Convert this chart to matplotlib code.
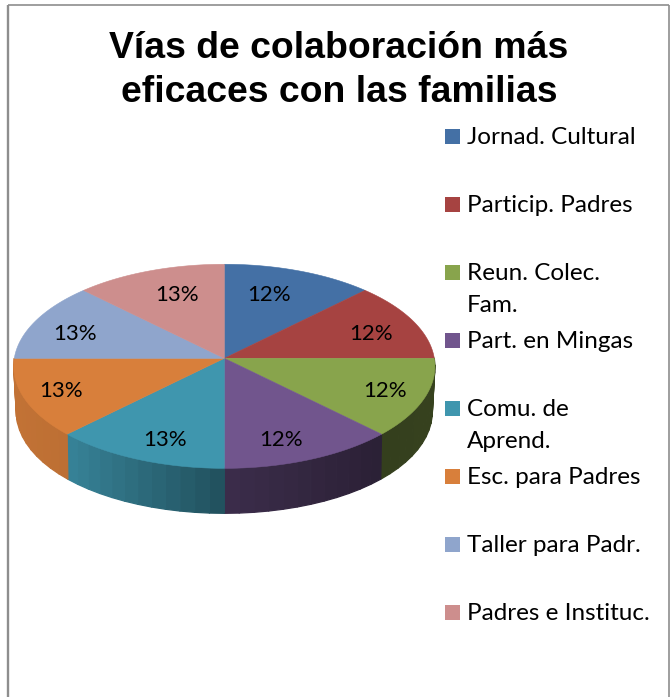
import numpy as np
import matplotlib
matplotlib.use("Agg")
import matplotlib.pyplot as plt
from matplotlib.collections import PolyCollection
from matplotlib.patches import Rectangle

# ---- data ----
title_lines = ["Vías de colaboración más", "eficaces con las familias"]
categories = ["Jornad. Cultural", "Particip. Padres", "Reun. Colec.\nFam.", "Part. en Mingas",
              "Comu. de\nAprend.", "Esc. para Padres", "Taller para Padr.", "Padres e Instituc."]
slice_shares = [12.5, 12.5, 12.5, 12.5, 12.5, 12.5, 12.5, 12.5]
printed_percent = [12, 12, 12, 12, 13, 13, 13, 13]

# ---- styles ----
colors = ["#4470a5", "#a64341", "#88a44c", "#71558d", "#3f96ae", "#d87f3b", "#8fa5cc", "#cd8e8d"]
CX, CY, RX, S, K, DEPTH = 224.3, 358.3, 210.0, 101.4, 0.0784, 45.0
label_xy = [(269, 295), (371, 334), (385, 391), (281, 440), (165, 440), (61, 391), (75, 334), (177, 295)]
shade_x = [14, 68, 224, 380, 434]
shade_v = [0.90, 0.87, 0.53, 0.38, 0.40]
legend_y = [136.5, 204, 272, 340, 408, 476, 544, 612]
LEG_FONT = "Lato"


def project(theta_deg):
    """Clockwise-from-top angle to image position on the tilted disc rim."""
    t = np.radians(theta_deg)
    u, v = np.sin(t), np.cos(t)
    w = 1 + K * v
    return CX + RX * u / w, CY - S * v / w


fig = plt.figure(figsize=(6.70, 6.97), dpi=100)
ax = fig.add_axes([0, 0, 1, 1])
ax.set_xlim(0, 670)
ax.set_ylim(697, 0)
ax.axis("off")

# chart frame
ax.plot([8.3, 8.3], [697, 4.5], color="#8e8e8e", lw=1.7, solid_capstyle="butt")
ax.plot([8.3, 668.6], [4.5, 4.5], color="#8e8e8e", lw=1.2, solid_capstyle="butt")
ax.plot([668.6, 668.6], [4.5, 697], color="#8e8e8e", lw=1.2, solid_capstyle="butt")

edges = np.cumsum([0] + slice_shares) / np.sum(slice_shares) * 360

# side wall
polys, cols = [], []
for i, c in enumerate(colors):
    lo, hi = max(edges[i], 90), min(edges[i + 1], 270)
    if hi <= lo:
        continue
    base = np.array(matplotlib.colors.to_rgb(c))
    th = np.linspace(lo, hi, 13)
    x, y = project(th)
    for j in range(len(th) - 1):
        xm = 0.5 * (x[j] + x[j + 1])
        # the lower rim sits slightly inside the upper one near the sides
        inset = 2.5 * ((x[[j + 1, j]] - CX) / RX) ** 4 * np.sign(x[[j + 1, j]] - CX)
        polys.append([(x[j], y[j]), (x[j + 1], y[j + 1]),
                      (x[j + 1] - inset[0], y[j + 1] + DEPTH), (x[j] - inset[1], y[j] + DEPTH)])
        cols.append(tuple(base * np.interp(xm, shade_x, shade_v)))
ax.add_collection(PolyCollection(polys, facecolors=cols, edgecolors=cols, linewidths=0.9))

# top faces
for i, c in enumerate(colors):
    th = np.linspace(edges[i], edges[i + 1], 60)
    x, y = project(th)
    ax.fill(np.r_[CX, x], np.r_[CY, y], facecolor=c, edgecolor=c, linewidth=0.4)

# percentage labels
for (lx, ly), p in zip(label_xy, printed_percent):
    ax.text(lx, ly, f"{p}%", ha="center", va="center", fontsize=16, family=LEG_FONT, color="black")

# title
for line, yy in zip(title_lines, [49, 92]):
    ax.text(339, yy, line, ha="center", va="center", fontsize=26.9, fontweight="bold",
            family="Liberation Sans", color="black")

# legend
for name, c, yy in zip(categories, colors, legend_y):
    ax.add_patch(Rectangle((445, yy - 7.5), 15, 15, facecolor=c, edgecolor="none"))
    for k, part in enumerate(name.split("\n")):
        ax.text(467, yy + 33 * k + 1, part, ha="left", va="center", fontsize=17.5, family=LEG_FONT, color="black")

fig.savefig("out.png", dpi=100, facecolor="white")
